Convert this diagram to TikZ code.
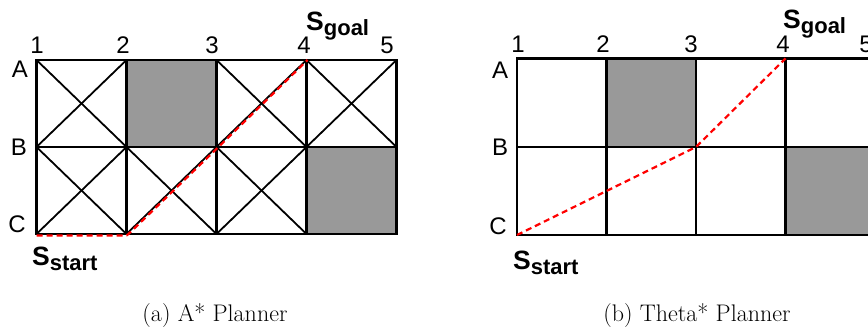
\documentclass[tikz,border=0pt]{standalone}
\usepackage{fontspec}
\newfontfamily\lab{Liberation Sans}
\definecolor{obstgray}{HTML}{999999}
\begin{document}
\begin{tikzpicture}[x=1pt,y=-1pt,
  gridline/.style={line width=2.3pt, line cap=rect},
  diag/.style={line width=1.8pt},
  obst/.style={fill=obstgray},
  route/.style={red, line width=2.2pt, dash pattern=on 6pt off 4pt},
  lbl/.style={font=\lab\fontsize{24}{26}\selectfont, inner sep=0pt},
  sname/.style={inner sep=0pt, anchor=base west},
  capt/.style={font=\fontsize{24}{28}\selectfont, inner sep=0pt, anchor=base}]
\useasboundingbox (0,0) rectangle (868,328);
\newcommand{\sgoal}{\lab\bfseries\fontsize{26.5}{30}\selectfont S\raisebox{-5pt}{\fontsize{22}{26}\selectfont goal}}
\newcommand{\sstart}{\lab\bfseries\fontsize{26.5}{30}\selectfont S\raisebox{-5pt}{\fontsize{22}{26}\selectfont start}}
% ---------- left grid coordinates ----------
\foreach \i/\x in {1/36.5,2/126.5,3/216.5,4/306.5,5/396.5}
  \foreach \r/\y in {A/60,B/147,C/234}
    \coordinate (L\r\i) at (\x,\y);
% ---------- right grid coordinates ----------
\foreach \i/\x in {1/517,2/606.5,3/696,4/785.5,5/875}
  \foreach \r/\y in {A/58.5,B/147,C/235}
    \coordinate (R\r\i) at (\x,\y);
% ---------- left grid ----------
\fill[obst] (LA2) rectangle (LB3);
\fill[obst] (LB4) rectangle (LC5);
\foreach \c/\d in {1/2,3/4,4/5} {
  \draw[diag] (LA\c) -- (LB\d);
  \draw[diag] (LB\c) -- (LA\d);
}
\foreach \c/\d in {1/2,2/3,3/4} {
  \draw[diag] (LB\c) -- (LC\d);
  \draw[diag] (LC\c) -- (LB\d);
}
\draw[gridline] (LA1) rectangle (LC5);
\draw[gridline] (LB1) -- (LB5);
\foreach \i in {2,3,4} \draw[gridline] (LA\i) -- (LC\i);
\draw[route] ([yshift=-1.5pt]LC1) -- ([yshift=-1.5pt]LC2) -- ([xshift=2pt]LC2) -- ([xshift=2pt]LB3) -- ([xshift=1pt]LA4);
% ---------- right grid ----------
\fill[obst] (RA2) rectangle (RB3);
\fill[obst] (RB4) rectangle (RC5);
\draw[gridline] (RA5) -- (RA1) -- (RC1) -- (RC5);
\draw[gridline] (RB1) -- (RB5);
\foreach \i in {2,3,4} \draw[gridline] (RA\i) -- (RC\i);
\draw[route] (RC1) -- (RB3) -- (RA4);
% ---------- labels left ----------
\foreach \t/\x in {1/37,2/123,3/212,4/304,5/387}
  \node[lbl] (lcol\t) at (\x,45) {\t};
\node[lbl] (lrowA) at (20,69) {A};
\node[lbl] (lrowB) at (19,147) {B};
\node[lbl] (lrowC) at (17,224) {C};
\node[sname] (lgoal) at (306,31) {\sgoal};
\node[sname] (lstart) at (32,266) {\sstart};
\node[capt] (capa) at (215,322) {(a) A* Planner};
% ---------- labels right ----------
\foreach \t/\x in {1/518,2/603,3/691,4/783,5/866}
  \node[lbl] (rcol\t) at (\x,44) {\t};
\node[lbl] (rrowA) at (500,70) {A};
\node[lbl] (rrowB) at (500,147) {B};
\node[lbl] (rrowC) at (498,226) {C};
\node[sname] (rgoal) at (783,29) {\sgoal};
\node[sname] (rstart) at (513,270) {\sstart};
\node[capt] (capb) at (697,322) {(b) Theta* Planner};
\end{tikzpicture}
\end{document}
